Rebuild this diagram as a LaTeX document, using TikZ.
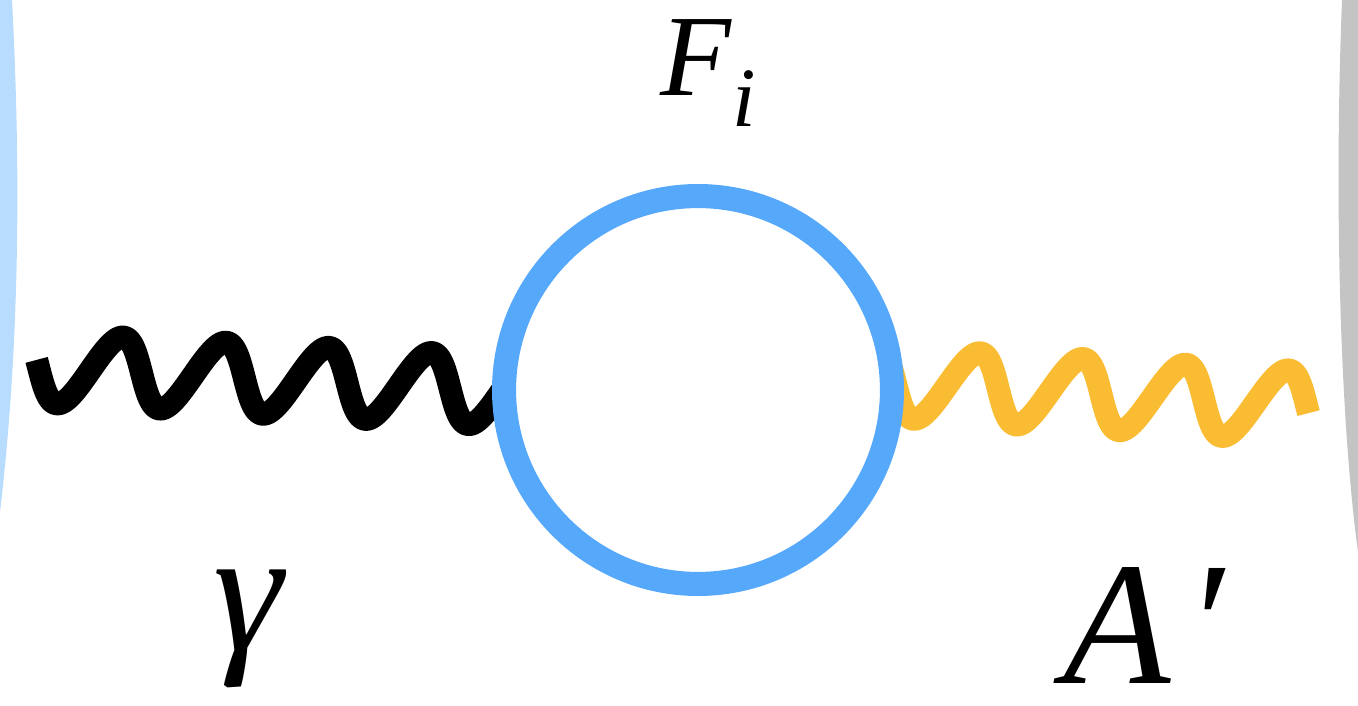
\documentclass[tikz,border=0pt]{standalone}
\usepackage{fontspec}
\setmainfont{Liberation Serif}
\usetikzlibrary{decorations}
\definecolor{loopblue}{HTML}{55A8FA}
\definecolor{paleblue}{HTML}{B8DCFD}
\definecolor{darkphoton}{HTML}{F9BC33}
\definecolor{sidegray}{HTML}{C4C4C4}

% slanted sine for the photon lines
\pgfkeys{/pgf/decoration/.cd,
  wave phase/.store in=\wavephase, wave phase=0,
  wave slant/.store in=\waveslant, wave slant=3.13pt}
\pgfdeclaredecoration{slantwave}{start}{
  \state{start}[width=0pt, next state=wave]{
    \pgfmathsetmacro\wavesin{sin(\wavephase)}
    \pgfpathmoveto{\pgfpoint{\waveslant*\wavesin}{\pgfdecorationsegmentamplitude*\wavesin}}
  }
  \state{wave}[width=1pt]{
    \pgfmathsetmacro\wavesin{sin(\wavephase+360*(\pgfdecoratedcompleteddistance/\pgfdecorationsegmentlength))}
    \pgfpathlineto{\pgfpoint{\waveslant*\wavesin}{\pgfdecorationsegmentamplitude*\wavesin}}
  }
  \state{final}{}
}

\begin{document}
\begin{tikzpicture}[x=0.02cm, y=-0.02cm,
  every node/.style={inner sep=0pt},
  photon/.style={line width=13.1pt, line join=round, decorate,
    decoration={slantwave, amplitude=19.92pt, segment length=58.61pt, wave phase=#1}},
  fermionloop/.style={draw=loopblue, fill=white, line width=13.7pt, circle,
    minimum size=7.76cm, outer sep=0pt}]
\useasboundingbox (0,0) rectangle (1358,706);
% Side strips
\fill[paleblue] (0,0) -- (12,0) .. controls (22,190) and (18,360) .. (0,512) -- cycle;
\fill[sidegray] (1342,0) .. controls (1334,200) and (1340,420) .. (1358,552) -- (1358,0) -- cycle;
% Nodes
\coordinate (gin) at (35,367.7);
\coordinate (vl) at (600,396.1);
\coordinate (vr) at (800,377.9);
\coordinate (aout) at (1310,406.2);
\node[anchor=base west] (fi) at (660,95) {\fontsize{66}{66}\selectfont\textit{F}\raisebox{-18pt}{\fontsize{48}{48}\selectfont\textit{i}}};
\node[anchor=base] (gam) at (250,650) {\fontsize{100}{100}\selectfont\textit{γ}};
\node[anchor=base west] (ap) at (1063,683) {\fontsize{100}{100}\selectfont\textit{A}\kern8pt\textit{′}};
% Edges
\draw[photon=167, black] (gin) -- (vl);
\draw[photon=168.5, darkphoton] (aout) -- (vr);
\node[fermionloop] (loop) at (698,390) {};
\end{tikzpicture}
\end{document}
